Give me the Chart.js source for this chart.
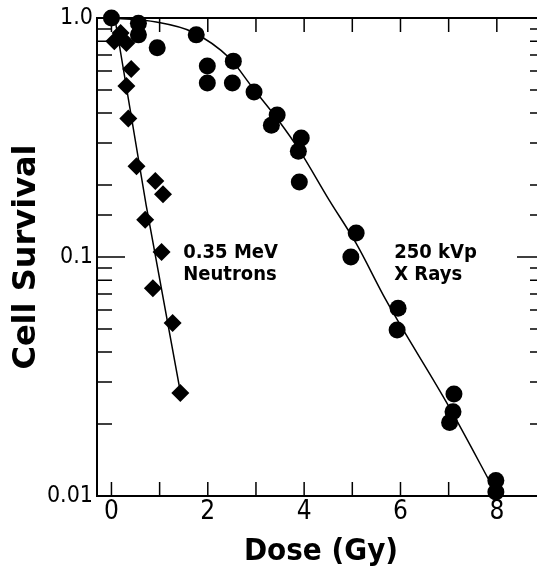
<!DOCTYPE html>
<html>
<head>
<meta charset="utf-8">
<script src="https://cdn.jsdelivr.net/npm/chart.js@4.4.1/dist/chart.umd.min.js"></script>
<style>
  html, body { margin: 0; padding: 0; background: #fff; overflow: hidden; }
  #wrap { position: relative; width: 550px; height: 577px; }
</style>
</head>
<body>
<div id="wrap"><canvas id="chart"></canvas></div>
<script>
// 250 kVp X rays (circles)
const xrayDose = [0, 0.56, 0.56, 0.95, 1.76, 1.99, 1.99, 2.53, 2.51, 2.96, 3.44, 3.32, 3.94, 3.88, 3.90, 5.08, 4.97, 5.95, 5.93, 7.11, 7.09, 7.02, 7.98, 7.98];
const xraySurv = [1.0, 0.95, 0.85, 0.75, 0.85, 0.63, 0.535, 0.66, 0.535, 0.49, 0.393, 0.356, 0.315, 0.277, 0.206, 0.126, 0.10, 0.061, 0.0495, 0.0267, 0.0225, 0.0203, 0.0116, 0.0104];

// 0.35 MeV neutrons (diamonds)
const neutDose = [0.06, 0.19, 0.31, 0.41, 0.31, 0.35, 0.52, 0.91, 1.07, 0.70, 1.04, 0.86, 1.27, 1.43];
const neutSurv = [0.80, 0.866, 0.786, 0.612, 0.52, 0.38, 0.24, 0.208, 0.183, 0.143, 0.105, 0.074, 0.053, 0.027];

// fitted curves
const xrayFitDose = [0, 0.93, 1.68, 2.45, 2.92, 3.48, 3.90, 4.52, 5.08, 5.70, 7.01, 7.98];
const xrayFitSurv = [1.0, 0.962, 0.874, 0.68, 0.514, 0.37, 0.28, 0.173, 0.114, 0.066, 0.0236, 0.0103];
const neutFitDose = [0.07, 0.72, 1.41];
const neutFitSurv = [1.0, 0.165, 0.0287];

// axis labels
const xTickLabels = ['0', '2', '4', '6', '8'];
const yTickLabels = {'1': '1.0', '0.1': '0.1', '0.01': '0.01'};

// in-plot labels
const noteLines = [['0.35 MeV', 'Neutrons'], ['250 kVp', 'X Rays']];
const noteDose = [1.49, 5.87];
const noteSurv = [0.099, 0.099];

const toPoints = (xs, ys) => xs.map((v, i) => ({x: v, y: ys[i]}));

const isDecade = v => Math.abs(Math.log10(v) - Math.round(Math.log10(v))) < 1e-6;

const frameTicks = {
  id: 'frameTicks',
  beforeDatasetsDraw(chart) {
    const {ctx, chartArea: {left, right, top, bottom}, scales: {x, y}} = chart;
    ctx.save();
    ctx.strokeStyle = '#000';
    ctx.lineWidth = 2;
    ctx.beginPath();
    ctx.moveTo(left - 1, top);
    ctx.lineTo(right, top);
    ctx.stroke();

    ctx.lineWidth = 1.5;
    ctx.beginPath();
    x.ticks.forEach(t => {
      const px = x.getPixelForValue(t.value);
      ctx.moveTo(px, bottom);
      ctx.lineTo(px, bottom - 14);
      ctx.moveTo(px, top);
      ctx.lineTo(px, top + 14);
    });
    y.ticks.forEach(t => {
      const py = y.getPixelForValue(t.value);
      const len = isDecade(t.value) ? 28 : 15;
      ctx.moveTo(left, py);
      ctx.lineTo(left + len, py);
      ctx.moveTo(right, py);
      ctx.lineTo(right - len, py);
    });
    ctx.stroke();

    ctx.fillStyle = '#000';
    ctx.font = 'bold 20px "DejaVu Sans Condensed"';
    ctx.textAlign = 'left';
    ctx.textBaseline = 'alphabetic';
    noteLines.forEach((lines, i) => {
      const px = x.getPixelForValue(noteDose[i]);
      const py = y.getPixelForValue(noteSurv[i]);
      lines.forEach((txt, j) => ctx.fillText(txt, px, py + j * 22));
    });
    ctx.restore();
  }
};

new Chart(document.getElementById('chart'), {
  type: 'scatter',
  data: {
    datasets: [
      {
        label: '250 kVp X Rays',
        data: toPoints(xrayDose, xraySurv),
        pointStyle: 'circle',
        pointRadius: 8.5,
        backgroundColor: '#000',
        borderColor: '#000',
        borderWidth: 0,
        clip: false
      },
      {
        label: '0.35 MeV Neutrons',
        data: toPoints(neutDose, neutSurv),
        pointStyle: 'rectRot',
        pointRadius: 9,
        backgroundColor: '#000',
        borderColor: '#000',
        borderWidth: 0,
        clip: false
      },
      {
        label: 'X ray fit',
        data: toPoints(xrayFitDose, xrayFitSurv),
        showLine: true,
        pointRadius: 0,
        borderColor: '#000',
        borderWidth: 1.5,
        cubicInterpolationMode: 'monotone'
      },
      {
        label: 'Neutron fit',
        data: toPoints(neutFitDose, neutFitSurv),
        showLine: true,
        pointRadius: 0,
        borderColor: '#000',
        borderWidth: 1.5
      }
    ]
  },
  options: {
    responsive: true,
    maintainAspectRatio: false,
    animation: false,
    layout: {autoPadding: false, padding: {top: 18, right: 5, left: 0, bottom: 0}},
    plugins: {legend: {display: false}, tooltip: {enabled: false}},
    scales: {
      x: {
        type: 'linear',
        min: -0.3,
        max: 9,
        afterFit: s => { s.height = 81; },
        grid: {display: false, drawTicks: false},
        border: {display: true, color: '#000', width: 2},
        ticks: {
          stepSize: 1,
          includeBounds: false,
          autoSkip: false,
          maxRotation: 0,
          padding: 1,
          color: '#000',
          font: {family: '"DejaVu Sans Condensed"', size: 26},
          callback: v => xTickLabels.includes(String(v)) ? String(v) : ''
        },
        title: {
          display: true,
          text: 'Dose (Gy)',
          color: '#000',
          font: {family: '"DejaVu Sans Condensed"', size: 31, weight: 'bold'},
          padding: {top: 0, bottom: 6}
        }
      },
      y: {
        type: 'logarithmic',
        min: 0.01,
        max: 1,
        afterFit: s => { s.width = 97; },
        grid: {display: false, drawTicks: false},
        border: {display: true, color: '#000', width: 2},
        ticks: {
          autoSkip: false,
          padding: 4,
          color: '#000',
          font: {family: '"DejaVu Sans Condensed"', size: 23},
          callback: v => isDecade(v) ? yTickLabels[String(Number(v.toPrecision(3)))] : ''
        },
        title: {
          display: true,
          text: 'Cell Survival',
          color: '#000',
          font: {family: '"DejaVu Sans"', size: 32, weight: 'bold'},
          padding: {top: 7, bottom: 0}
        }
      }
    }
  },
  plugins: [frameTicks]
});
</script>
</body>
</html>
